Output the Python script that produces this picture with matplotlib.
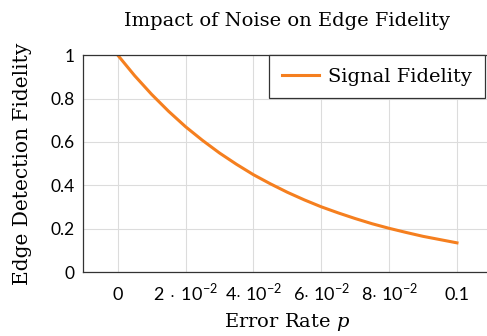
import matplotlib
matplotlib.use("Agg")
import matplotlib.pyplot as plt

# values
errorRate = [0.0, 0.005, 0.01, 0.015, 0.02, 0.025, 0.03, 0.035, 0.04, 0.045, 0.05,
             0.055, 0.06, 0.065, 0.07, 0.075, 0.08, 0.085, 0.09, 0.095, 0.1]
fidelity = [1.0, 0.905, 0.819, 0.741, 0.670, 0.607, 0.549, 0.497, 0.449, 0.407, 0.368,
            0.333, 0.301, 0.273, 0.247, 0.223, 0.202, 0.183, 0.165, 0.150, 0.135]
xTicks = [0.0, 0.02, 0.04, 0.06, 0.08, 0.1]
xTickLabels = ["0", r"2$\,\cdot\,$10$^{-2}$", r"4$\cdot$ 10$^{-2}$", r"6$\cdot$ 10$^{-2}$",
               r"8$\cdot$ 10$^{-2}$", "0.1"]
yTicks = [0, 0.2, 0.4, 0.6, 0.8, 1]
yTickLabels = ["0", "0.2", "0.4", "0.6", "0.8", "1"]

plt.rcParams['mathtext.fontset'] = 'custom'
plt.rcParams['mathtext.rm'] = 'Lato'
plt.rcParams['mathtext.it'] = 'DejaVu Serif:italic'
plt.rcParams['mathtext.sf'] = 'Lato'

serif = 'DejaVu Serif'

fig = plt.figure(figsize=(4.87, 3.36), dpi=100)
ax = fig.add_axes([0.170, 0.190, 0.838, 0.646])

ax.plot(errorRate, fidelity, color='#f57f1f', linewidth=2.2, label='Signal Fidelity')

ax.set_xlim(-0.0103, 0.11)
ax.set_ylim(0, 1)
ax.set_xticks(xTicks)
ax.set_xticklabels(xTickLabels, fontfamily='Lato', fontsize=13)
ax.set_yticks(yTicks)
ax.set_yticklabels(yTickLabels, fontfamily='Lato', fontsize=12.5)
ax.tick_params(length=0)
ax.tick_params(axis='y', pad=6)
ax.tick_params(axis='x', pad=20)
for lbl in ax.get_xticklabels():
    lbl.set_verticalalignment('baseline')
ax.grid(True, color='#dcdcdc', linewidth=0.8)
ax.set_axisbelow(True)
for s in ax.spines.values():
    s.set_color('#333333')
    s.set_linewidth(0.9)

ax.set_title('Impact of Noise on Edge Fidelity', fontfamily=serif, fontsize=14, pad=21)
ax.set_xlabel(r'Error Rate $p$', fontfamily=serif, fontsize=14, labelpad=6)
ax.set_ylabel('Edge Detection Fidelity', fontfamily=serif, fontsize=14.5, labelpad=13)

leg = ax.legend(loc='upper right', prop={'family': serif, 'size': 14},
                fancybox=False, framealpha=1, edgecolor='#333333',
                borderaxespad=0.0, bbox_to_anchor=(0.985, 1.0), handlelength=1.9,
                handletextpad=0.5, borderpad=0.65)
leg.get_frame().set_linewidth(0.9)

fig.savefig('out.png', dpi=100)
